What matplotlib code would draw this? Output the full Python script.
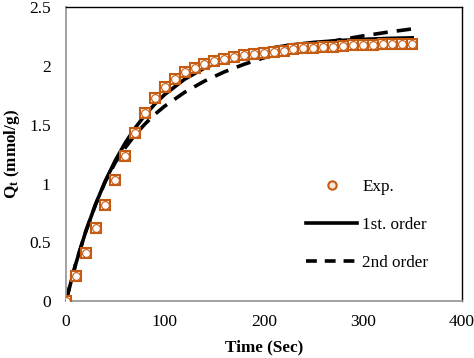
import matplotlib
matplotlib.use("Agg")
import matplotlib.pyplot as plt
from matplotlib.lines import Line2D

plt.rcParams['font.family'] = ['Liberation Serif', 'DejaVu Serif']
plt.rcParams['mathtext.fontset'] = 'custom'
plt.rcParams['mathtext.rm'] = 'Liberation Serif'
plt.rcParams['mathtext.bf'] = 'Liberation Serif:bold'

# experimental points
t_exp = [0, 10, 20, 30, 40, 50, 60, 70, 80, 90, 100, 110, 120, 130, 140, 150, 160, 170,
         180, 190, 200, 210, 220, 230, 240, 250, 260, 270, 280, 290, 300, 310, 320, 330, 340, 350]
q_exp = [0.0, 0.21, 0.41, 0.62, 0.82, 1.03, 1.23, 1.43, 1.60, 1.73, 1.82, 1.89, 1.95, 1.98,
         2.02, 2.04, 2.06, 2.08, 2.09, 2.10, 2.11, 2.12, 2.13, 2.14, 2.15, 2.155, 2.16, 2.165,
         2.17, 2.175, 2.18, 2.18, 2.185, 2.19, 2.19, 2.19]

# model curves
t_fit = [0, 10, 20, 30, 40, 50, 60, 70, 80, 90, 100, 120, 140, 160, 180, 200, 225, 250, 275, 300, 325, 350]
q_first = [0.0, 0.317, 0.59, 0.824, 1.025, 1.197, 1.346, 1.473, 1.583, 1.677, 1.758, 1.887,
           1.982, 2.052, 2.104, 2.142, 2.176, 2.200, 2.216, 2.226, 2.234, 2.239]
q_second = [0.0, 0.32, 0.59, 0.82, 1.02, 1.18, 1.305, 1.415, 1.507, 1.589, 1.659, 1.776,
            1.871, 1.949, 2.014, 2.069, 2.128, 2.177, 2.219, 2.255, 2.287, 2.315]

orange = '#c55a11'

fig = plt.figure(figsize=(4.74, 3.58), dpi=100)
ax = fig.add_axes([0.139, 0.159, 0.835, 0.821])

ax.plot(t_fit, q_second, color='black', lw=2.6, dashes=(4, 2.5), zorder=2)
ax.plot(t_fit, q_first, color='black', lw=2.6, zorder=2)
ax.plot(t_exp, q_exp, ls='none', marker='s', ms=7.4, mfc='white', mec=orange, mew=1.5, zorder=3)
ax.plot(t_exp, q_exp, ls='none', marker='o', ms=5.6, mfc='white', mec=orange, mew=0.8, zorder=4)

ax.set_xlim(0, 400)
ax.set_ylim(0, 2.5)
ax.set_xticks([0, 100, 200, 300, 400])
ax.set_yticks([0, 0.5, 1, 1.5, 2, 2.5])
ax.set_yticklabels(['0', '0.5', '1', '1.5', '2', '2.5'])
ax.tick_params(length=0, labelsize=12.5, pad=9, colors='black')
ax.tick_params(axis='y', pad=11)

for s in ['left', 'bottom']:
    ax.spines[s].set_color('#9a9a9a')
    ax.spines[s].set_linewidth(1.3)
for s in ['top', 'right']:
    ax.spines[s].set_color('black')
    ax.spines[s].set_linewidth(1.0)

ax.set_xlabel('Time (Sec)', fontsize=12.3, fontweight='bold', labelpad=7)
ax.set_ylabel(r'$\mathbf{Q_t}$ (mmol/g)', fontsize=12.3, fontweight='bold', labelpad=5)

handles = [
    Line2D([], [], ls='none', marker='o', ms=6, mfc='#fbe5d6', mec=orange, mew=1.5),
    Line2D([], [], color='black', lw=2.6),
    Line2D([], [], color='black', lw=2.6, dashes=(3, 2.2)),
]
ax.legend(handles, ['Exp.', '1st. order', '2nd order'], loc='lower right',
          bbox_to_anchor=(0.955, 0.05), frameon=False, fontsize=12.3,
          handlelength=3.0, handletextpad=0.3, labelspacing=1.3)

fig.savefig('out.png', dpi=100)
